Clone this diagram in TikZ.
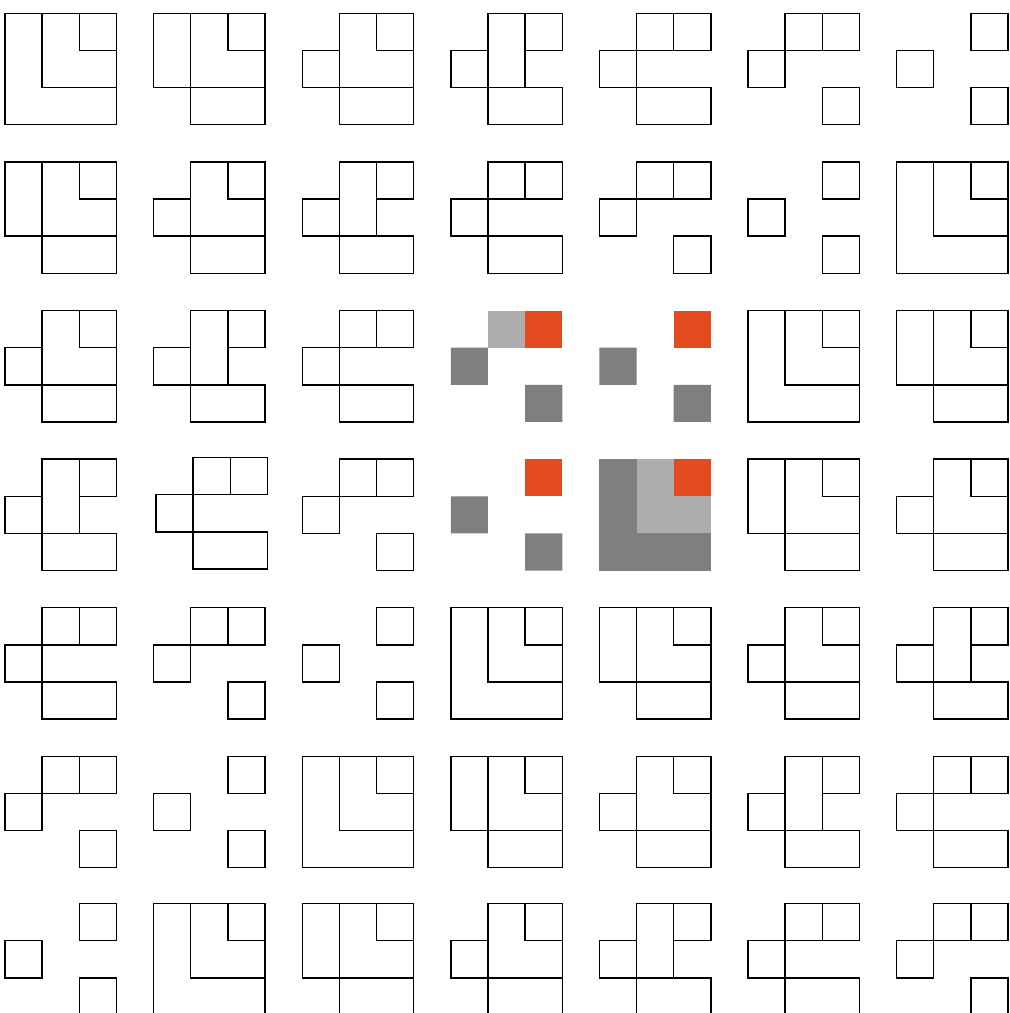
\documentclass[tikz,border=0pt]{standalone}
\definecolor{accent}{RGB}{228,74,32}
\definecolor{lightgr}{RGB}{173,173,173}
\definecolor{darkgr}{RGB}{127,127,127}
\tikzset{
  outl/.style={draw=black, line width=1.4pt, line join=miter},
  fr0/.pic={\draw[outl] (0,0) rectangle (3,3) (1,0) rectangle (3,2) (2,0) rectangle (3,1);},
  fr1/.pic={\draw[outl] (0,0) rectangle (1,2) (1,2) rectangle (3,3) (1,0) rectangle (3,2) (2,0) rectangle (3,1);},
  fr2/.pic={\draw[outl] (0,1) rectangle (1,2) (1,2) rectangle (3,3) (1,0) rectangle (3,2) (2,0) rectangle (3,1);},
  fr3/.pic={\draw[outl] (0,1) rectangle (1,2) (1,2) rectangle (3,3) (1,0) rectangle (2,2) (2,0) rectangle (3,1);},
  fr4/.pic={\draw[outl] (0,1) rectangle (1,2) (1,2) rectangle (3,3) (1,0) rectangle (2,1) (2,0) rectangle (3,1);},
  fr5/.pic={\draw[outl] (0,1) rectangle (1,2) (2,2) rectangle (3,3) (1,0) rectangle (2,1) (2,0) rectangle (3,1);},
  fr6/.pic={\draw[outl] (0,1) rectangle (1,2) (2,2) rectangle (3,3) (2,0) rectangle (3,1);},
  colz/.pic={\fill[darkgr] (0,0) rectangle (3,3); \fill[lightgr] (1,0) rectangle (3,2); \fill[accent] (2,0) rectangle (3,1);},
  colf/.pic={\fill[darkgr] (0,1) rectangle (1,2) (2,2) rectangle (3,3); \fill[lightgr] (1,0) rectangle (2,1); \fill[accent] (2,0) rectangle (3,1);},
  cols/.pic={\fill[darkgr] (0,1) rectangle (1,2) (2,2) rectangle (3,3); \fill[accent] (2,0) rectangle (3,1);},
}
\newcommand\placetile[3]{\pic at ({0.1346+4*#2},{0.358+4*#1}) {#3};}
\begin{document}
\begin{tikzpicture}[x=37.15pt,y=-37.15pt]
\useasboundingbox (0,0) rectangle (27.187,27.268);
\fill[white] (0,0) rectangle (27.187,27.268);
\clip (0,0) rectangle (27.187,27.268);
% row 1
\placetile{0}{0}{fr0}\placetile{0}{1}{fr1}\placetile{0}{2}{fr2}\placetile{0}{3}{fr3}\placetile{0}{4}{fr4}\placetile{0}{5}{fr5}\placetile{0}{6}{fr6}
% row 2
\placetile{1}{0}{fr1}\placetile{1}{1}{fr2}\placetile{1}{2}{fr3}\placetile{1}{3}{fr4}\placetile{1}{4}{fr5}\placetile{1}{5}{fr6}\placetile{1}{6}{fr0}
% row 3
\placetile{2}{0}{fr2}\placetile{2}{1}{fr3}\placetile{2}{2}{fr4}\placetile{2}{3}{colf}\placetile{2}{4}{cols}\placetile{2}{5}{fr0}\placetile{2}{6}{fr1}
% row 4
\placetile{3}{0}{fr3}\pic at ({0.1346+4+0.065},{0.358+12-0.04}) {fr4};\placetile{3}{2}{fr5}\placetile{3}{3}{cols}\placetile{3}{4}{colz}\placetile{3}{5}{fr1}\placetile{3}{6}{fr2}
% row 5
\placetile{4}{0}{fr4}\placetile{4}{1}{fr5}\placetile{4}{2}{fr6}\placetile{4}{3}{fr0}\placetile{4}{4}{fr1}\placetile{4}{5}{fr2}\placetile{4}{6}{fr3}
% row 6
\placetile{5}{0}{fr5}\placetile{5}{1}{fr6}\placetile{5}{2}{fr0}\placetile{5}{3}{fr1}\placetile{5}{4}{fr2}\placetile{5}{5}{fr3}\placetile{5}{6}{fr4}
% row 7
\begin{scope}[yshift=1.3pt]
\placetile{6}{0}{fr6}\placetile{6}{1}{fr0}\placetile{6}{2}{fr1}\placetile{6}{3}{fr2}\placetile{6}{4}{fr3}\placetile{6}{5}{fr4}\placetile{6}{6}{fr5}
\end{scope}
\end{tikzpicture}
\end{document}
